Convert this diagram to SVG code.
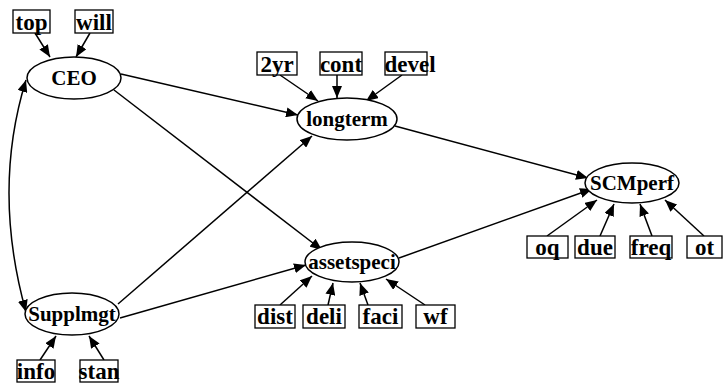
<svg xmlns="http://www.w3.org/2000/svg" width="724" height="384" viewBox="0 0 724 384">
<style>
.box{fill:#fff;stroke:#000;stroke-width:1.3}
.ell{fill:#fff;stroke:#000;stroke-width:1.5}
.bt{font-family:"Liberation Serif",serif;font-weight:bold;font-size:23px;fill:#000;text-anchor:middle}
.nt{font-family:"Liberation Serif",serif;font-weight:bold;font-size:21px;fill:#000;text-anchor:middle}
.e{stroke:#000;stroke-width:1.5;fill:none;marker-end:url(#ah)}
</style>
<defs>
<marker id="ah" markerUnits="userSpaceOnUse" markerWidth="12" markerHeight="10" refX="12" refY="5" orient="auto">
<path d="M0,0 L12,5 L0,10 Z" fill="#000"/>
</marker>
<marker id="ahs" markerUnits="userSpaceOnUse" markerWidth="12" markerHeight="10" refX="0" refY="5" orient="auto">
<path d="M12,0 L0,5 L12,10 Z" fill="#000"/>
</marker>
</defs>
<g id="connectors">
<line class="e" x1="35" y1="33" x2="50" y2="57"/>
<line class="e" x1="90" y1="33" x2="76" y2="57"/>
<path d="M26,80 Q-8,190 26,312" stroke="#000" stroke-width="1.5" fill="none" marker-start="url(#ahs)" marker-end="url(#ah)"/>
<line class="e" x1="121" y1="74" x2="298" y2="115"/>
<line class="e" x1="114" y1="90" x2="322" y2="250"/>
<line class="e" x1="118" y1="304" x2="312" y2="136"/>
<line class="e" x1="120" y1="318" x2="306" y2="265"/>
<line class="e" x1="280" y1="75" x2="318" y2="101"/>
<line class="e" x1="337" y1="75" x2="337" y2="98"/>
<line class="e" x1="402" y1="75" x2="366" y2="101"/>
<line class="e" x1="395" y1="126" x2="588" y2="178"/>
<line class="e" x1="399" y1="258" x2="592" y2="189"/>
<line class="e" x1="547" y1="236" x2="597" y2="200"/>
<line class="e" x1="600" y1="236" x2="614" y2="204"/>
<line class="e" x1="652" y1="236" x2="640" y2="204"/>
<line class="e" x1="704" y1="236" x2="665" y2="200"/>
<line class="e" x1="40" y1="360" x2="56" y2="336"/>
<line class="e" x1="104" y1="360" x2="89" y2="336"/>
<line class="e" x1="280" y1="305" x2="312" y2="276"/>
<line class="e" x1="328" y1="305" x2="333" y2="283"/>
<line class="e" x1="368" y1="305" x2="360" y2="283"/>
<line class="e" x1="425" y1="305" x2="386" y2="279"/>
</g>
<g id="top"><rect class="box" x="13" y="10" width="37" height="23"/><text class="bt" x="31.5" y="30">top</text></g>
<g id="will"><rect class="box" x="75" y="10" width="38" height="23"/><text class="bt" x="94" y="30">will</text></g>
<g id="CEO"><ellipse class="ell" cx="74" cy="78" rx="47" ry="21"/><text class="nt" x="74" y="85">CEO</text></g>
<g id="n2yr"><rect class="box" x="257" y="52" width="40" height="23"/><text class="bt" x="277" y="72">2yr</text></g>
<g id="cont"><rect class="box" x="320" y="52" width="42" height="23"/><text class="bt" x="341" y="72">cont</text></g>
<g id="devel"><rect class="box" x="385" y="52" width="42" height="23"/><text class="bt" x="410" y="72">devel</text></g>
<g id="longterm"><ellipse class="ell" cx="347" cy="119" rx="50" ry="21"/><text class="nt" x="347" y="126">longterm</text></g>
<g id="SCMperf"><ellipse class="ell" cx="632" cy="183" rx="47" ry="20"/><text class="nt" x="632" y="190">SCMperf</text></g>
<g id="oq"><rect class="box" x="527" y="236" width="41" height="22"/><text class="bt" x="547.5" y="255">oq</text></g>
<g id="due"><rect class="box" x="575" y="236" width="40" height="22"/><text class="bt" x="595" y="255">due</text></g>
<g id="freq"><rect class="box" x="630" y="236" width="42" height="22"/><text class="bt" x="651" y="255">freq</text></g>
<g id="ot"><rect class="box" x="687" y="236" width="35" height="22"/><text class="bt" x="704.5" y="255">ot</text></g>
<g id="assetspeci"><ellipse class="ell" cx="352" cy="262" rx="47" ry="20"/><text class="nt" x="352" y="269">assetspeci</text></g>
<g id="dist"><rect class="box" x="255" y="305" width="40" height="23"/><text class="bt" x="275" y="324">dist</text></g>
<g id="deli"><rect class="box" x="303" y="305" width="42" height="23"/><text class="bt" x="324" y="324">deli</text></g>
<g id="faci"><rect class="box" x="359" y="305" width="43" height="23"/><text class="bt" x="380.5" y="324">faci</text></g>
<g id="wf"><rect class="box" x="416" y="305" width="39" height="23"/><text class="bt" x="435.5" y="324">wf</text></g>
<g id="Supplmgt"><ellipse class="ell" cx="72" cy="314" rx="47" ry="21"/><text class="nt" x="72" y="321">Supplmgt</text></g>
<g id="info"><rect class="box" x="17" y="360" width="38" height="22"/><text class="bt" x="36" y="379">info</text></g>
<g id="stan"><rect class="box" x="80" y="360" width="38" height="22"/><text class="bt" x="99" y="379">stan</text></g>
</svg>
